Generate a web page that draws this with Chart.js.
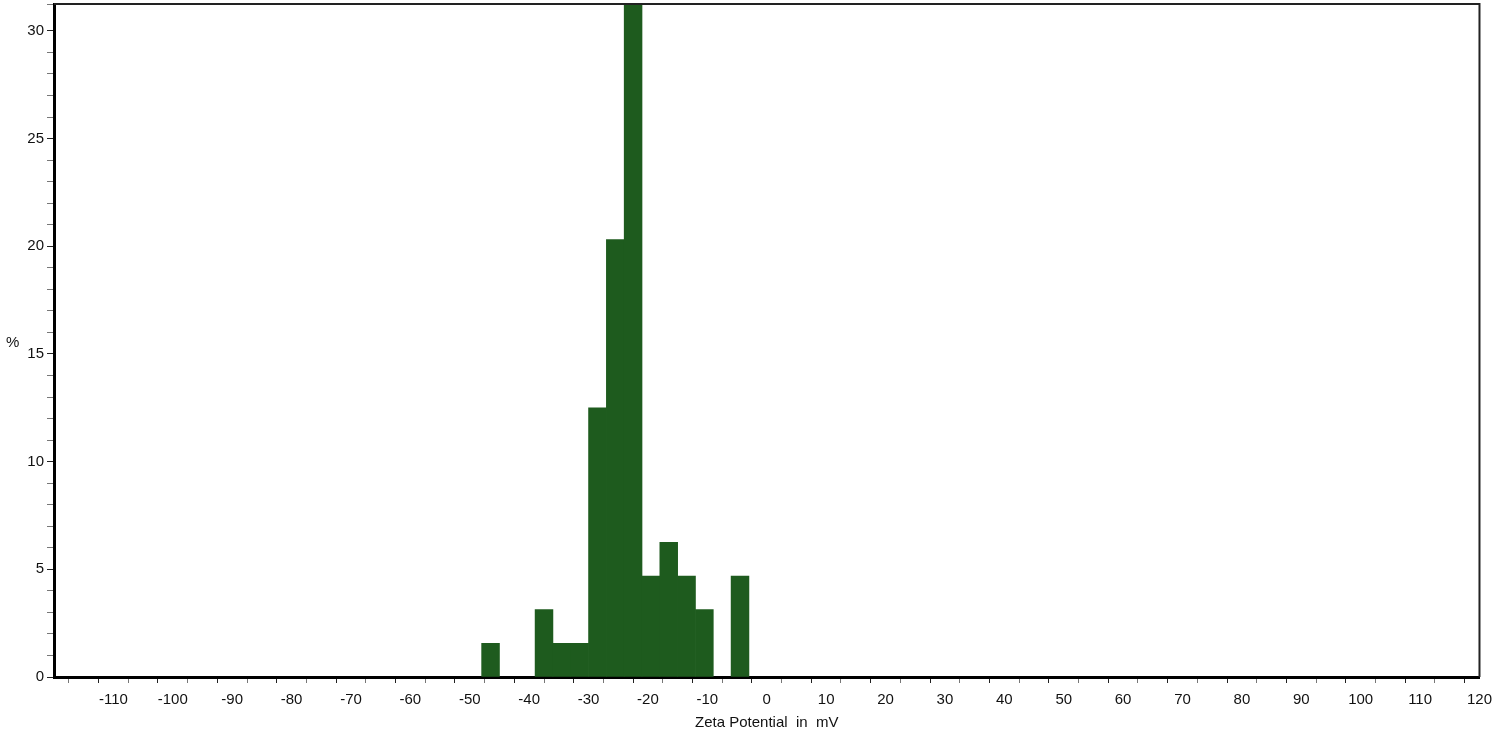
<!DOCTYPE html>
<html>
<head>
<meta charset="utf-8">
<title>Zeta Potential Distribution</title>
<script src="https://cdn.jsdelivr.net/npm/chart.js@4.4.0/dist/chart.umd.min.js"></script>
<style>
  html, body { margin: 0; padding: 0; background: #fff; }
  #wrap { width: 1500px; height: 732px; }
</style>
</head>
<body>
<div id="wrap"><canvas id="zetaChart"></canvas></div>
<script>
// bin centres (mV), bins are 3 mV wide
const binCenters = [-46.5, -37.5, -34.5, -31.5, -28.5, -25.5, -22.5, -19.5, -16.5, -13.5, -10.5, -4.5];
// percentage of counts per bin
const percents = [1.5625, 3.125, 1.5625, 1.5625, 12.5, 20.3125, 31.25, 4.6875, 6.25, 4.6875, 3.125, 4.6875];
// axis limits
const xMin = -120, xMax = 120;
const yMin = 0, yMax = 31.25;

const points = binCenters.map((x, i) => ({ x: x, y: percents[i] }));

// frame on top and right, plus the horizontal "%" label
const framePlugin = {
  id: 'frame',
  afterDraw(chart) {
    const { ctx, chartArea: a } = chart;
    ctx.save();
    ctx.strokeStyle = '#222';
    ctx.lineWidth = 2;
    ctx.beginPath();
    ctx.moveTo(a.left, a.top);
    ctx.lineTo(a.right, a.top);
    ctx.lineTo(a.right, a.bottom);
    ctx.stroke();
    ctx.fillStyle = '#111';
    ctx.font = '15px "Liberation Sans", Arial, sans-serif';
    ctx.textAlign = 'left';
    ctx.textBaseline = 'middle';
    ctx.fillText('%', 6, 343);
    ctx.restore();
  }
};

const tickCol = ctx => (ctx.tick && ctx.tick.value % 10 === 0 ? '#222' : '#777');

new Chart(document.getElementById('zetaChart'), {
  type: 'bar',
  data: {
    datasets: [{
      label: '%',
      data: points,
      backgroundColor: '#1e5b1e',
      borderWidth: 0,
      barPercentage: 1.0,
      categoryPercentage: 1.0
    }]
  },
  options: {
    responsive: true,
    maintainAspectRatio: false,
    animation: false,
    layout: { padding: { top: 4, right: 17, left: 0, bottom: 0 } },
    plugins: {
      legend: { display: false },
      tooltip: { enabled: false }
    },
    scales: {
      x: {
        type: 'linear',
        min: xMin,
        max: xMax,
        offset: false,
        afterFit: s => { s.height = 55; },
        border: { display: true, color: '#000', width: 3 },
        grid: { drawOnChartArea: false, drawTicks: true, tickLength: 6, tickColor: tickCol, tickWidth: 1 },
        ticks: {
          stepSize: 5,
          autoSkip: false,
          maxRotation: 0,
          padding: 8,
          color: '#111',
          font: { family: '"Liberation Sans", Arial, sans-serif', size: 15 },
          callback: v => (v % 10 === 0 && v !== xMin ? String(v) : '')
        },
        title: {
          display: true,
          text: 'Zeta Potential  in  mV',
          color: '#111',
          padding: { top: 0, bottom: 0 },
          font: { family: '"Liberation Sans", Arial, sans-serif', size: 15 }
        }
      },
      y: {
        min: yMin,
        max: yMax,
        afterFit: s => { s.width = 54; s.paddingTop = 0; s.paddingBottom = 0; },
        border: { display: true, color: '#000', width: 3 },
        grid: {
          drawOnChartArea: false, drawTicks: true, tickLength: 7, tickWidth: 1,
          tickColor: ctx => (ctx.tick && ctx.tick.value % 5 === 0 ? '#222' : '#777')
        },
        ticks: {
          stepSize: 1,
          autoSkip: false,
          padding: 3,
          color: '#111',
          font: { family: '"Liberation Sans", Arial, sans-serif', size: 15 },
          callback: v => (v % 5 === 0 ? String(v) : '')
        }
      }
    }
  },
  plugins: [framePlugin]
});
</script>
</body>
</html>
